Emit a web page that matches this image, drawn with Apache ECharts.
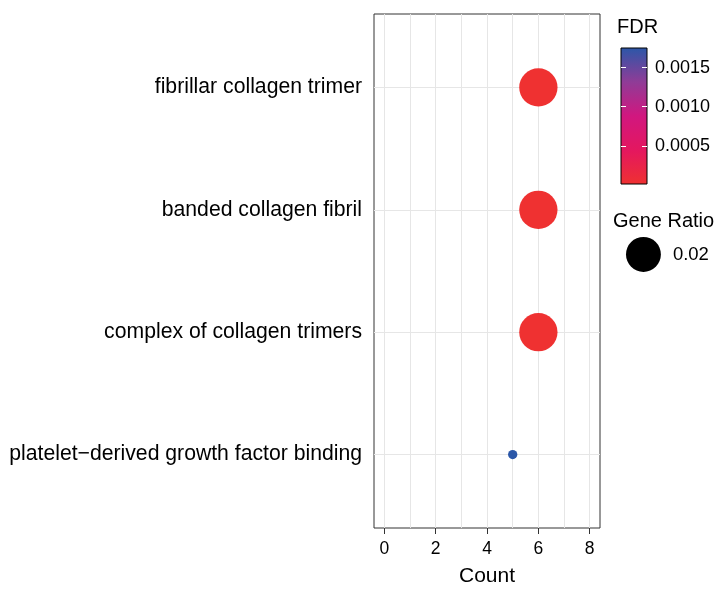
<!DOCTYPE html>
<html>
<head>
<meta charset="utf-8">
<script src="https://cdn.jsdelivr.net/npm/echarts@6/dist/echarts.min.js"></script>
<style>
html, body { margin: 0; padding: 0; background: #fff; }
#chart { width: 727px; height: 592px; }
</style>
</head>
<body>
<div id="chart"></div>
<script>
// terms, top to bottom
var categories = ["fibrillar collagen trimer", "banded collagen fibril", "complex of collagen trimers", "platelet\u2212derived growth factor binding"];
var counts = [6, 6, 6, 5];
var fdr = [0.000011, 0.000011, 0.000011, 0.00175];
var geneRatio = [0.0208, 0.0208, 0.0208, 0.0172];

var xTicks = [0, 2, 4, 6, 8];
var xGrid = [0, 1, 2, 3, 4, 5, 6, 7, 8];
var fdrTicks = [0.0005, 0.0010, 0.0015];
var sizeBreaks = [0.02];

// red -> magenta -> blue
var fdrColors = ["#ef3131", "#e4175f", "#d1177f", "#8f3c97", "#2b57a8"];

var FONT = "'Liberation Sans', Arial, Helvetica, sans-serif";
var fdrMin = Math.min.apply(null, fdr);
var fdrMax = Math.max.apply(null, fdr);
var rMin = Math.min.apply(null, geneRatio);
var rMax = Math.max.apply(null, geneRatio);

function sizeOf(r) {
    var t = (r - rMin) / (rMax - rMin);
    if (t < 0) t = 0;
    return 9.3 + 29 * Math.sqrt(t);
}

var points = [];
for (var i = 0; i < categories.length; i++) {
    points.push([counts[i], i + 1, fdr[i], geneRatio[i]]);
}

var gridLines = [];
for (var i = 0; i < xGrid.length; i++) gridLines.push({xAxis: xGrid[i]});
for (var i = 0; i < categories.length; i++) gridLines.push({yAxis: i + 1});

var stops = [];
for (var i = 0; i < fdrColors.length; i++) {
    stops.push({offset: 1 - i / (fdrColors.length - 1), color: fdrColors[i]});
}
stops.reverse();

var chart = echarts.init(document.getElementById("chart"));
chart.setOption({
    animation: false,
    textStyle: {fontFamily: FONT},
    title: [
        {text: "FDR", left: 617, top: 17, padding: 0, textStyle: {fontFamily: FONT, fontSize: 20, fontWeight: "normal", color: "#000"}},
        {text: "Gene Ratio", left: 613, top: 211, padding: 0, textStyle: {fontFamily: FONT, fontSize: 20, fontWeight: "normal", color: "#000"}}
    ],
    legend: {
        left: 626, top: 237, padding: 0,
        itemWidth: sizeOf(sizeBreaks[0]), itemHeight: sizeOf(sizeBreaks[0]),
        data: [{name: sizeBreaks[0].toFixed(2), icon: "circle", itemStyle: {color: "#000", opacity: 1}}],
        textStyle: {fontFamily: FONT, fontSize: 18.5, color: "#000", padding: [3, 0, 0, 7]},
        selectedMode: false
    },
    grid: [
        {left: 374, top: 14, width: 226, height: 514, show: true, borderColor: "#333", borderWidth: 1, backgroundColor: "#fff"},
        {left: 621, top: 48, width: 26, height: 136, show: true, borderColor: "#000", borderWidth: 1,
         backgroundColor: {type: "linear", x: 0, y: 0, x2: 0, y2: 1, colorStops: stops}}
    ],
    xAxis: [
        {
            type: "value", gridIndex: 0, min: -0.4, max: 8.4,
            name: "Count", nameLocation: "middle", nameGap: 38,
            nameTextStyle: {fontFamily: FONT, fontSize: 21, color: "#000"},
            axisLine: {show: false},
            axisTick: {show: true, length: 6, customValues: xTicks, lineStyle: {color: "#333"}},
            axisLabel: {customValues: xTicks, margin: 12, fontSize: 17.5, color: "#000", fontFamily: FONT},
            splitLine: {show: false}
        },
        {type: "value", gridIndex: 1, show: false, min: 0, max: 1}
    ],
    yAxis: [
        {
            type: "value", gridIndex: 0, min: 0.4, max: 4.6, inverse: true,
            axisLine: {show: false},
            axisTick: {show: true, length: 6, customValues: [1, 2, 3, 4], lineStyle: {color: "#333"}},
            axisLabel: {
                customValues: [1, 2, 3, 4], margin: 12, fontSize: 21.2, color: "#000", fontFamily: FONT,
                padding: [5, 0, 0, 0],
                formatter: function (v) { return categories[Math.round(v) - 1]; }
            },
            splitLine: {show: false}
        },
        {
            type: "value", gridIndex: 1, min: fdrMin, max: fdrMax, position: "left",
            axisLine: {show: false},
            axisTick: {show: true, inside: true, length: 5, customValues: fdrTicks, lineStyle: {color: "#fff", width: 1}},
            axisLabel: {show: false},
            splitLine: {show: false}
        },
        {
            type: "value", gridIndex: 1, min: fdrMin, max: fdrMax, position: "right",
            axisLine: {show: false},
            axisTick: {show: true, inside: true, length: 5, customValues: fdrTicks, lineStyle: {color: "#fff", width: 1}},
            axisLabel: {
                customValues: fdrTicks, margin: 8, fontSize: 18, color: "#000", fontFamily: FONT,
                padding: [2, 0, 0, 0],
                formatter: function (v) { return v.toFixed(4); }
            },
            splitLine: {show: false}
        }
    ],
    visualMap: {
        type: "continuous", show: false, seriesIndex: 1, dimension: 2,
        min: fdrMin, max: fdrMax, inRange: {color: fdrColors}
    },
    series: [
        {
            type: "scatter", xAxisIndex: 0, yAxisIndex: 0, data: [], z: 1, silent: true,
            markLine: {
                silent: true, z: 1, symbol: "none", label: {show: false},
                lineStyle: {color: "#e6e6e6", width: 1, type: "solid"},
                data: gridLines
            }
        },
        {
            type: "scatter", xAxisIndex: 0, yAxisIndex: 0, z: 3,
            data: points,
            symbolSize: function (val) { return sizeOf(val[3]); },
            itemStyle: {opacity: 1}
        },
        {
            type: "scatter", name: sizeBreaks[0].toFixed(2), xAxisIndex: 0, yAxisIndex: 0, data: [],
            itemStyle: {color: "#000", opacity: 1}
        }
    ]
});
</script>
</body>
</html>
